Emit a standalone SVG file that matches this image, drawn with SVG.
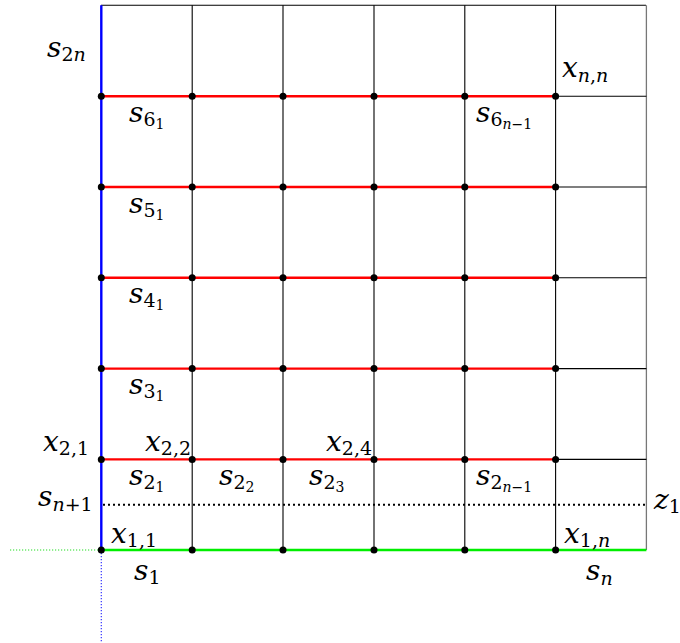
<svg xmlns="http://www.w3.org/2000/svg" width="680" height="643" viewBox="0 0 680 643">
<style>
.g{stroke:#000;stroke-width:1.1;fill:none}
.gr{stroke:#777;stroke-width:1.3;fill:none}
.r{stroke:#ff0000;stroke-width:2.4;fill:none}
.gn{stroke:#00ee00;stroke-width:2.4;fill:none}
.b{stroke:#0000ff;stroke-width:2.4;fill:none}
.dk{stroke:#000;stroke-width:2;stroke-dasharray:2 3;fill:none}
.dg{stroke:#22dd22;stroke-width:1.2;stroke-dasharray:1.2 1.8;fill:none}
.db{stroke:#3333ff;stroke-width:1.2;stroke-dasharray:1.2 1.8;fill:none}
text{font-family:"DejaVu Serif","Liberation Serif",serif;font-style:italic;font-size:28px;fill:#000}
.s{font-style:normal;font-size:19px}
.ss{font-style:normal;font-size:14px}
.si{font-style:italic;font-size:19px}
.ssi{font-style:italic;font-size:14px}
circle{fill:#000}
</style>
<g id="connectors">
<line class="g" x1="101" y1="5.3" x2="646" y2="5.3"/>
<line class="g" x1="192.2" y1="5.3" x2="192.2" y2="550"/>
<line class="g" x1="283" y1="5.3" x2="283" y2="550"/>
<line class="g" x1="374" y1="5.3" x2="374" y2="550"/>
<line class="g" x1="464.8" y1="5.3" x2="464.8" y2="550"/>
<line class="g" x1="555.6" y1="5.3" x2="555.6" y2="550"/>
<line class="gr" x1="646.4" y1="5.3" x2="646.4" y2="550"/>
<line class="g" x1="555.6" y1="96.2" x2="646.4" y2="96.2"/>
<line class="g" x1="555.6" y1="187" x2="646.4" y2="187"/>
<line class="g" x1="555.6" y1="277.8" x2="646.4" y2="277.8"/>
<line class="g" x1="555.6" y1="368.6" x2="646.4" y2="368.6"/>
<line class="g" x1="555.6" y1="459.4" x2="646.4" y2="459.4"/>
<line class="r" x1="101.3" y1="96.2" x2="555.6" y2="96.2"/>
<line class="r" x1="101.3" y1="187" x2="555.6" y2="187"/>
<line class="r" x1="101.3" y1="277.8" x2="555.6" y2="277.8"/>
<line class="r" x1="101.3" y1="368.6" x2="555.6" y2="368.6"/>
<line class="r" x1="101.3" y1="459.4" x2="555.6" y2="459.4"/>
<line class="dk" x1="103" y1="504.7" x2="646" y2="504.7"/>
<line class="gn" x1="101.3" y1="550" x2="646.4" y2="550"/>
<line class="b" x1="101.3" y1="5.3" x2="101.3" y2="550"/>
<line class="dg" x1="10" y1="550" x2="101" y2="550"/>
<line class="db" x1="101.3" y1="550" x2="101.3" y2="643"/>
</g>
<g id="nodes">
<g id="row6"><circle cx="101.3" cy="96.2" r="3.5"/><circle cx="192.2" cy="96.2" r="3.5"/><circle cx="283" cy="96.2" r="3.5"/><circle cx="374" cy="96.2" r="3.5"/><circle cx="464.8" cy="96.2" r="3.5"/><circle cx="555.6" cy="96.2" r="3.5"/></g>
<g id="row5"><circle cx="101.3" cy="187" r="3.5"/><circle cx="192.2" cy="187" r="3.5"/><circle cx="283" cy="187" r="3.5"/><circle cx="374" cy="187" r="3.5"/><circle cx="464.8" cy="187" r="3.5"/><circle cx="555.6" cy="187" r="3.5"/></g>
<g id="row4"><circle cx="101.3" cy="277.8" r="3.5"/><circle cx="192.2" cy="277.8" r="3.5"/><circle cx="283" cy="277.8" r="3.5"/><circle cx="374" cy="277.8" r="3.5"/><circle cx="464.8" cy="277.8" r="3.5"/><circle cx="555.6" cy="277.8" r="3.5"/></g>
<g id="row3"><circle cx="101.3" cy="368.6" r="3.5"/><circle cx="192.2" cy="368.6" r="3.5"/><circle cx="283" cy="368.6" r="3.5"/><circle cx="374" cy="368.6" r="3.5"/><circle cx="464.8" cy="368.6" r="3.5"/><circle cx="555.6" cy="368.6" r="3.5"/></g>
<g id="row2"><circle cx="101.3" cy="459.4" r="3.5"/><circle cx="192.2" cy="459.4" r="3.5"/><circle cx="283" cy="459.4" r="3.5"/><circle cx="374" cy="459.4" r="3.5"/><circle cx="464.8" cy="459.4" r="3.5"/><circle cx="555.6" cy="459.4" r="3.5"/></g>
<g id="row1"><circle cx="101.3" cy="550" r="3.5"/><circle cx="192.2" cy="550" r="3.5"/><circle cx="283" cy="550" r="3.5"/><circle cx="374" cy="550" r="3.5"/><circle cx="464.8" cy="550" r="3.5"/><circle cx="555.6" cy="550" r="3.5"/></g>
</g>
<g id="labels">
<text x="47" y="57">s<tspan class="s" dy="4">2</tspan><tspan class="si">n</tspan></text>
<text x="562" y="77">x<tspan class="si" dy="5">n</tspan><tspan class="s">,</tspan><tspan class="si">n</tspan></text>
<text x="129" y="122">s<tspan class="s" dy="4">6</tspan><tspan class="ss" dy="3">1</tspan></text>
<text x="476" y="122">s<tspan class="s" dy="4">6</tspan><tspan class="ssi" dy="3">n</tspan><tspan class="ss">−1</tspan></text>
<text x="129" y="213">s<tspan class="s" dy="4">5</tspan><tspan class="ss" dy="3">1</tspan></text>
<text x="129" y="303">s<tspan class="s" dy="4">4</tspan><tspan class="ss" dy="3">1</tspan></text>
<text x="129" y="394">s<tspan class="s" dy="4">3</tspan><tspan class="ss" dy="3">1</tspan></text>
<text x="43" y="451">x<tspan class="s" dy="4">2,1</tspan></text>
<text x="145" y="451">x<tspan class="s" dy="4">2,2</tspan></text>
<text x="326" y="451">x<tspan class="s" dy="4">2,4</tspan></text>
<text x="129" y="485">s<tspan class="s" dy="4">2</tspan><tspan class="ss" dy="3">1</tspan></text>
<text x="219" y="485">s<tspan class="s" dy="4">2</tspan><tspan class="ss" dy="3">2</tspan></text>
<text x="309" y="485">s<tspan class="s" dy="4">2</tspan><tspan class="ss" dy="3">3</tspan></text>
<text x="476" y="485">s<tspan class="s" dy="4">2</tspan><tspan class="ssi" dy="3">n</tspan><tspan class="ss">−1</tspan></text>
<text x="38" y="506">s<tspan class="si" dy="5">n</tspan><tspan class="s">+1</tspan></text>
<text x="654" y="509">z<tspan class="s" dy="4">1</tspan></text>
<text x="111" y="543">x<tspan class="s" dy="4">1,1</tspan></text>
<text x="564" y="543">x<tspan class="s" dy="4">1,</tspan><tspan class="si">n</tspan></text>
<text x="134" y="580">s<tspan class="s" dy="4">1</tspan></text>
<text x="586" y="580">s<tspan class="si" dy="5">n</tspan></text>
</g>
</svg>
